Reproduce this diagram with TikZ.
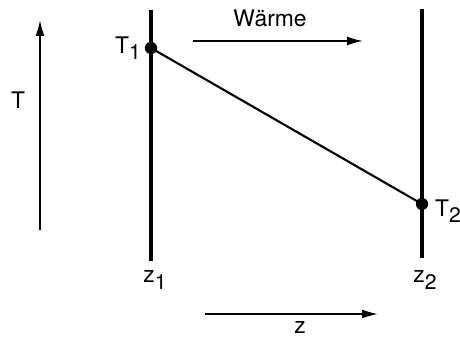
\documentclass[tikz,border=0pt]{standalone}
\usepackage{fontspec}
\setmainfont{TeX Gyre Heros}
\usetikzlibrary{arrows.meta}
\tikzset{
  wall/.style={line width=2.4pt},
  axis/.style={line width=0.9pt,-{Latex[length=9pt,width=5pt]}},
  dot/.style={circle,fill,inner sep=0pt,minimum size=7pt},
  lbl/.style={font=\fontsize{13}{15}\selectfont},
}
\newcommand{\sub}[2]{#1\raisebox{-0.55ex}{\fontsize{12}{14}\selectfont #2}}
\begin{document}
\begin{tikzpicture}[x=0.02cm,y=-0.02cm]
\useasboundingbox (0,0) rectangle (460,337);
% temperature axis
\coordinate (Tlow) at (40,230);
\coordinate (Thigh) at (40,20);
\draw[axis] (Tlow) -- (Thigh);
\node[lbl] (Tlab) at (18,100) {T};
% walls
\coordinate (w1top) at (151,10);
\coordinate (w1bot) at (151,261);
\coordinate (w2top) at (422,9);
\coordinate (w2bot) at (422,258);
\draw[wall] (w1top) -- (w1bot);
\draw[wall] (w2top) -- (w2bot);
% temperatures
\node[dot] (T1) at (151,48) {};
\node[dot] (T2) at (422,204) {};
\draw[line width=1.2pt] (T1.center) -- (T2.center);
\node[lbl] (T1lab) at (128,48) {\sub{T}{1}};
\node[lbl] (T2lab) at (448,211) {\sub{T}{2}};
% heat flow
\node[lbl] (heat) at (270,18) {Wärme};
\coordinate (h1) at (193,41);
\coordinate (h2) at (363,41);
\draw[axis] (h1) -- (h2);
% positions
\node[lbl] (z1) at (155,280) {\sub{z}{1}};
\node[lbl] (z2) at (425,280) {\sub{z}{2}};
\coordinate (za) at (205,314);
\coordinate (zb) at (378,314);
\draw[axis] (za) -- (zb);
\node[lbl] (zlab) at (300,328) {z};
\end{tikzpicture}
\end{document}
